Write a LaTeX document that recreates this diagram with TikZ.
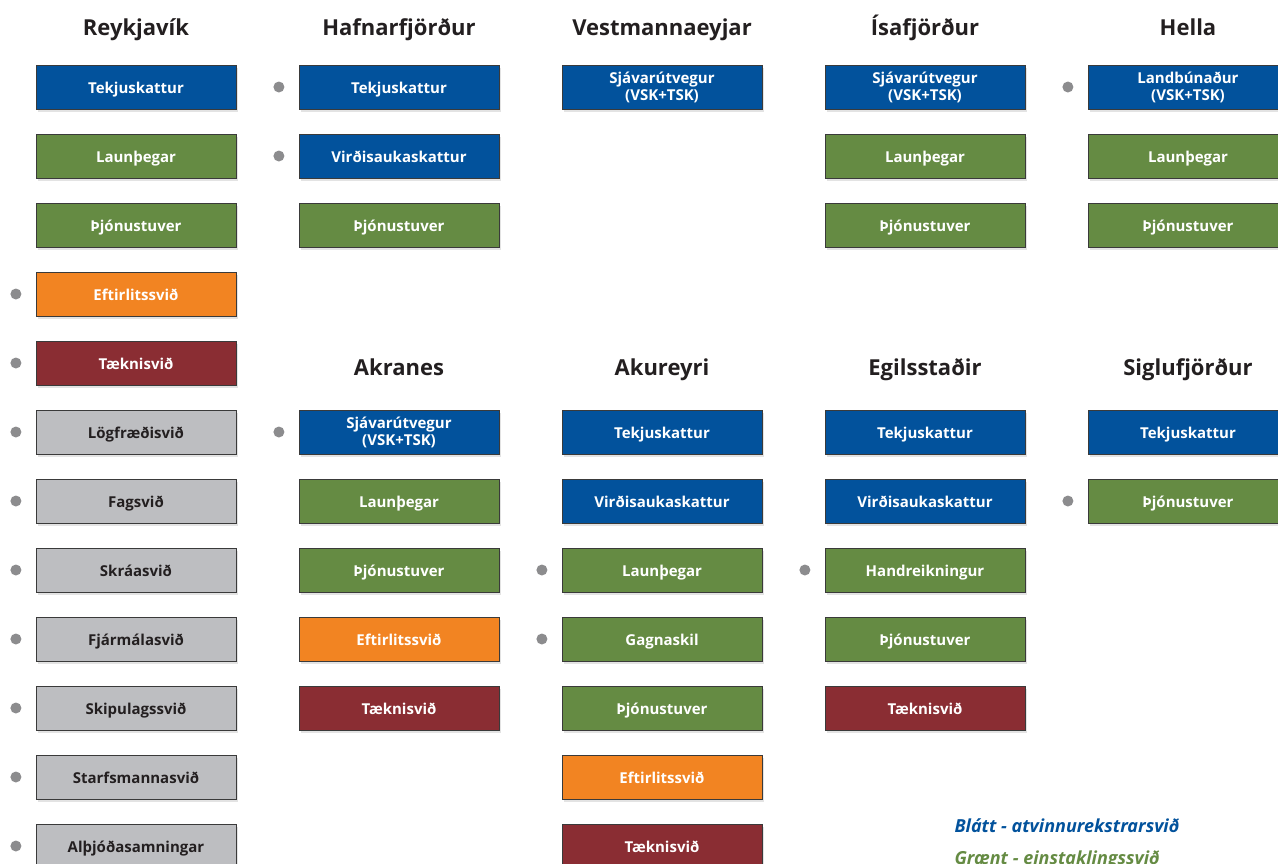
\documentclass[tikz,border=0pt]{standalone}
\usepackage{fontspec}
\setmainfont{Open Sans}
\usetikzlibrary{positioning, shadows}

\definecolor{rskblue}{HTML}{02529C}
\definecolor{rskgreen}{HTML}{658B43}
\definecolor{rskorange}{HTML}{F28422}
\definecolor{rskred}{HTML}{8A2D33}
\definecolor{rskgrey}{HTML}{BDBEC1}
\definecolor{dotgrey}{HTML}{8C8C8E}
\definecolor{boxline}{HTML}{3A3A3A}
\definecolor{titlegrey}{HTML}{231F20}

\tikzset{
  box/.style={draw=boxline, line width=0.8pt, minimum width=200pt, minimum height=44pt,
    inner sep=0pt, align=center, text=white, text height=12pt, text depth=0pt,
    font=\bfseries\fontsize{15}{17}\selectfont,
    drop shadow={opacity=.22, shadow xshift=2pt, shadow yshift=-3pt}},
  twoline/.style={text height={}, text depth={}},
  bluebox/.style={box, fill=rskblue},
  greenbox/.style={box, fill=rskgreen},
  orangebox/.style={box, fill=rskorange},
  redbox/.style={box, fill=rskred},
  greybox/.style={box, fill=rskgrey, text=titlegrey},
  dot/.style={circle, fill=dotgrey, minimum size=11pt, inner sep=0pt, left=14pt of #1},
  title/.style={font=\bfseries\fontsize{22}{22}\selectfont, text=titlegrey, anchor=base},
  legend/.style={font=\bfseries\itshape\fontsize{18}{18}\selectfont, anchor=base west}
}

\begin{document}
\begin{tikzpicture}[x=1pt, y=-1pt]

		\useasboundingbox (0,0) rectangle (1278,863);
		\clip (0,0) rectangle (1278,863);

		% titles
		\node[title] (trvk) at (136,35) {Reykjavík};
		\node[title] (thaf) at (399,35) {Hafnarfjörður};
		\node[title] (tvest) at (662,35) {Vestmannaeyjar};
		\node[title] (tisa) at (925,35) {Ísafjörður};
		\node[title] (thel) at (1188,35) {Hella};
		\node[title] (takr) at (399,375) {Akranes};
		\node[title] (taku) at (662,375) {Akureyri};
		\node[title] (tegil) at (925,375) {Egilsstaðir};
		\node[title] (tsig) at (1188,375) {Siglufjörður};

		% Reykjavik
		\node[bluebox] (rvk1) at (136,87) {Tekjuskattur};
		\node[greenbox] (rvk2) at (136,156) {Launþegar};
		\node[greenbox] (rvk3) at (136,225) {Þjónustuver};
		\node[orangebox] (rvk4) at (136,294) {Eftirlitssvið};
		\node[redbox] (rvk5) at (136,363) {Tæknisvið};
		\foreach \r/\y/\txt in {6/432/Lögfræðisvið, 7/501/Fagsvið, 8/570/Skráasvið,
			9/639/Fjármálasvið, 10/708/Skipulagssvið, 11/777/Starfsmannasvið,
			12/846/Alþjóðasamningar}
		{\node[greybox] (rvk\r) at (136,\y) {\txt};
		}
		\foreach \r in {4,...,12}
		{\node[dot=rvk\r] (rvkdot\r) {};
		}

		% Hafnarfjordur
		\node[bluebox] (haf1) at (399,87) {Tekjuskattur};
		\node[bluebox] (haf2) at (399,156) {Virðisaukaskattur};
		\node[greenbox] (haf3) at (399,225) {Þjónustuver};
		\node[dot=haf1] (hafdot1) {};
		\node[dot=haf2] (hafdot2) {};

		% Vestmannaeyjar
		\node[bluebox, twoline] (vest1) at (662,87) {Sjávarútvegur\\(VSK+TSK)};

		% Isafjordur
		\node[bluebox, twoline] (isa1) at (925,87) {Sjávarútvegur\\(VSK+TSK)};
		\node[greenbox] (isa2) at (925,156) {Launþegar};
		\node[greenbox] (isa3) at (925,225) {Þjónustuver};

		% Hella
		\node[bluebox, twoline] (hel1) at (1188,87) {Landbúnaður\\(VSK+TSK)};
		\node[greenbox] (hel2) at (1188,156) {Launþegar};
		\node[greenbox] (hel3) at (1188,225) {Þjónustuver};
		\node[dot=hel1] (heldot1) {};

		% Akranes
		\node[bluebox, twoline] (akr6) at (399,432) {Sjávarútvegur\\(VSK+TSK)};
		\node[greenbox] (akr7) at (399,501) {Launþegar};
		\node[greenbox] (akr8) at (399,570) {Þjónustuver};
		\node[orangebox] (akr9) at (399,639) {Eftirlitssvið};
		\node[redbox] (akr10) at (399,708) {Tæknisvið};
		\node[dot=akr6] (akrdot6) {};

		% Akureyri
		\node[bluebox] (aku6) at (662,432) {Tekjuskattur};
		\node[bluebox] (aku7) at (662,501) {Virðisaukaskattur};
		\node[greenbox] (aku8) at (662,570) {Launþegar};
		\node[greenbox] (aku9) at (662,639) {Gagnaskil};
		\node[greenbox] (aku10) at (662,708) {Þjónustuver};
		\node[orangebox] (aku11) at (662,777) {Eftirlitssvið};
		\node[redbox] (aku12) at (662,846) {Tæknisvið};
		\node[dot=aku8] (akudot8) {};
		\node[dot=aku9] (akudot9) {};

		% Egilsstadir
		\node[bluebox] (egil6) at (925,432) {Tekjuskattur};
		\node[bluebox] (egil7) at (925,501) {Virðisaukaskattur};
		\node[greenbox] (egil8) at (925,570) {Handreikningur};
		\node[greenbox] (egil9) at (925,639) {Þjónustuver};
		\node[redbox] (egil10) at (925,708) {Tæknisvið};
		\node[dot=egil8] (egildot8) {};

		% Siglufjordur
		\node[bluebox] (sig6) at (1188,432) {Tekjuskattur};
		\node[greenbox] (sig7) at (1188,501) {Þjónustuver};
		\node[dot=sig7] (sigdot7) {};

		% legend
		\node[legend, text=rskblue] (legblue) at (951,832) {Blátt - atvinnurekstrarsvið};
		\node[legend, text=rskgreen] (leggreen) at (951,864) {Grænt - einstaklingssvið};

\end{tikzpicture}
\end{document}
